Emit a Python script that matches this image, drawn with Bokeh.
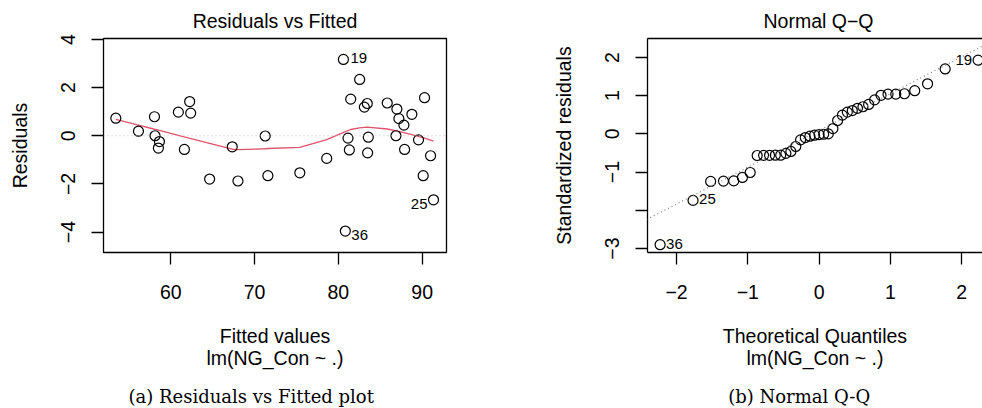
import numpy as np
from bokeh.plotting import figure
from bokeh.layouts import row, column
from bokeh.models import FixedTicker, Span, Slope, LinearAxis, Range1d
from bokeh.core.properties import value
from bokeh.embed import file_html
from bokeh.resources import INLINE

# ---------------- data ----------------
fitted = [53.45, 56.15, 58.06, 58.13, 58.65, 58.53, 60.91, 62.26, 62.38, 61.63,
          64.64, 67.34, 68.02, 71.27, 71.59, 75.40, 78.61, 80.60, 80.83, 81.15,
          81.31, 81.47, 82.54, 83.10, 83.45, 83.57, 83.49, 85.83, 86.98, 86.87,
          87.22, 87.82, 87.90, 88.77, 89.56, 90.28, 90.12, 91.00, 91.35]
residuals = [0.73, 0.19, 0.79, 0.00, -0.24, -0.51, 0.98, 1.42, 0.94, -0.57,
             -1.80, -0.46, -1.88, -0.01, -1.66, -1.54, -0.94, 3.17, -3.96, -0.10,
             -0.59, 1.52, 2.34, 1.19, 1.34, -0.06, -0.71, 1.36, 1.11, 0.00,
             0.71, 0.44, -0.57, 0.89, -0.17, 1.58, -1.66, -0.83, -2.66]

# lowess smoother as drawn
smooth_x = [53.45, 56.15, 58.06, 58.65, 60.91, 62.30, 64.64, 67.34, 68.02, 71.27,
            71.59, 75.40, 78.61, 80.83, 81.47, 82.54, 83.45, 85.83, 87.22, 88.77,
            90.28, 91.35]
smooth_y = [0.68, 0.44, 0.27, 0.22, 0.02, -0.11, -0.32, -0.56, -0.58, -0.54,
            -0.53, -0.48, -0.16, 0.17, 0.26, 0.33, 0.36, 0.28, 0.18, 0.05,
            -0.10, -0.22]

resid_label_idx = [17, 18, 38]
resid_label_txt = ["19", "36", "25"]

theoretical_q = [-2.231, -1.769, -1.522, -1.342, -1.198, -1.076, -0.967, -0.869,
                 -0.779, -0.695, -0.615, -0.539, -0.466, -0.396, -0.327, -0.260,
                 -0.194, -0.129, -0.064, 0.0, 0.064, 0.129, 0.194, 0.260, 0.327,
                 0.396, 0.466, 0.539, 0.615, 0.695, 0.779, 0.869, 0.967, 1.076,
                 1.198, 1.342, 1.522, 1.769, 2.231]
std_resid = [-2.90, -1.74, -1.245, -1.236, -1.23, -1.14, -1.01, -0.566, -0.562,
             -0.560, -0.558, -0.557, -0.51, -0.46, -0.33, -0.157, -0.096, -0.06,
             -0.035, -0.017, -0.009, 0.0, 0.14, 0.35, 0.49, 0.57, 0.61, 0.67,
             0.71, 0.77, 0.89, 1.01, 1.04, 1.04, 1.05, 1.13, 1.31, 1.70, 1.93]
qq_label_idx = [0, 1, 38]
qq_label_txt = ["36", "25", "19"]

rf_xticks = [60, 70, 80, 90]
rf_xlabels = ["60", "70", "80", "90"]
rf_yticks = [-4, -2, 0, 2, 4]
rf_ylabels = ["\u22124", "\u22122", "0", "2", "4"]
qq_xticks = [-2, -1, 0, 1, 2]
qq_xlabels = ["\u22122", "\u22121", "0", "1", "2"]
qq_yticks = [-3, -2, -1, 0, 1, 2]
qq_ylabels = ["\u22123", "", "\u22121", "0", "1", "2"]

captions = ["(a) Residuals vs Fitted plot", "(b) Normal Q-Q"]

assert len(fitted) == len(residuals) == 39
assert len(theoretical_q) == len(std_resid) == 39

SANS = "Liberation Sans"
SERIF = "DejaVu Serif"
FS = "19.5px"
LAB_FS = "15px"


def style_axis(ax, ticks, labels, label_standoff, title_standoff, vertical=False):
    ax.ticker = FixedTicker(ticks=ticks, minor_ticks=[])
    ax.major_label_overrides = {t: l for t, l in zip(ticks, labels)}
    ax.major_tick_out = 12
    ax.major_tick_in = 0
    ax.minor_tick_out = 0
    ax.minor_tick_in = 0
    ax.major_tick_line_width = 1.3
    ax.major_tick_line_color = "black"
    ax.axis_line_color = None
    ax.major_label_text_font = SANS
    ax.major_label_text_font_size = FS
    ax.major_label_text_color = "black"
    ax.major_label_standoff = label_standoff
    ax.axis_label_text_font = SANS
    ax.axis_label_text_font_size = FS
    ax.axis_label_text_font_style = "normal"
    ax.axis_label_text_color = "black"
    ax.axis_label_standoff = title_standoff
    if vertical:
        ax.major_label_orientation = "vertical"


def make_fig(frame_w, border_left, border_right, xr, yr, title):
    p = figure(frame_width=frame_w, frame_height=214,
               x_range=Range1d(*xr), y_range=Range1d(*yr),
               output_backend="svg", toolbar_location=None,
               min_border_left=border_left, min_border_right=border_right,
               min_border_top=38, min_border_bottom=126, title=title)
    p.xgrid.visible = False
    p.ygrid.visible = False
    p.background_fill_color = "white"
    p.border_fill_color = "white"
    p.title.text_font = SANS
    p.title.text_font_size = FS
    p.title.text_font_style = "normal"
    p.title.text_color = "black"
    p.title.vertical_align = "bottom"
    p.title.standoff = 13
    return p


# ---------------- panel (a): Residuals vs Fitted ----------------
p1 = make_fig(343, 103, 54, (51.98, 92.9), (-4.85, 4.04), "Residuals vs Fitted")
p1.title.align = "center"
p1.outline_line_color = "black"
p1.outline_line_width = 1.3
style_axis(p1.xaxis[0], rf_xticks, rf_xlabels, 20, 23)
style_axis(p1.yaxis[0], rf_yticks, rf_ylabels, 16, 28, vertical=True)
p1.xaxis[0].axis_label = "Fitted values\nlm(NG_Con ~ .)"
p1.xaxis[0].axis_label_text_line_height = 1.03
p1.yaxis[0].axis_label = "Residuals"

p1.add_layout(Span(location=0, dimension="width", line_color="#bebebe",
                   line_dash="1 3", line_width=1.2))
p1.line(smooth_x, smooth_y, line_color="#DF536B", line_width=1.3)
p1.scatter(fitted, residuals, marker="circle", size=10, fill_color=None,
           line_color="black", line_width=1.2)

rf_offsets = {"19": (7, -1, "left"), "36": (6, 3.5, "left"), "25": (-6, 4, "right")}
for i, t in zip(resid_label_idx, resid_label_txt):
    dx, dy, al = rf_offsets[t]
    p1.text(x=[fitted[i]], y=[residuals[i]], text=[t], x_offset=dx, y_offset=dy,
            text_align=al, text_baseline="middle", text_font=value(SANS),
            text_font_size=value(LAB_FS), text_color="black")

# ---------------- panel (b): Normal Q-Q ----------------
p2 = make_fig(335, 147, 0, (-2.408, 2.293), (-3.104, 2.496), "Normal Q\u2212Q")
p2.title.align = "left"
p2.title.offset = 116
p2.outline_line_color = None
style_axis(p2.xaxis[0], qq_xticks, qq_xlabels, 20, 23)
style_axis(p2.yaxis[0], qq_yticks, qq_ylabels, 16, 28, vertical=True)
for ax in (p2.xaxis[0], p2.yaxis[0]):
    ax.axis_line_color = "black"
    ax.axis_line_width = 1.3
p2.xaxis[0].axis_label = "Theoretical Quantiles\nlm(NG_Con ~ .)"
p2.xaxis[0].axis_label_text_line_height = 1.03
p2.yaxis[0].axis_label = "Standardized residuals"
top_axis = LinearAxis(ticker=FixedTicker(ticks=[], minor_ticks=[]),
                      major_label_text_font_size="0px",
                      major_tick_out=0, major_tick_in=0, minor_tick_out=0, minor_tick_in=0,
                      major_label_standoff=0, axis_line_color="black", axis_line_width=1.3)
p2.add_layout(top_axis, "above")

q1, q3 = np.percentile(std_resid, [25, 75])
z = 0.6744897501960817
slope = (q3 - q1) / (2 * z)
intercept = q1 + slope * z
p2.add_layout(Slope(gradient=slope, y_intercept=intercept, line_color="#7f7f7f",
                    line_dash="1 3", line_width=1.2))
p2.scatter(theoretical_q, std_resid, marker="circle", size=10, fill_color=None,
           line_color="black", line_width=1.2)

qq_offsets = {"36": (6, -1, "left"), "25": (6, -1, "left"), "19": (-6, 0, "right")}
for i, t in zip(qq_label_idx, qq_label_txt):
    dx, dy, al = qq_offsets[t]
    p2.text(x=[theoretical_q[i]], y=[std_resid[i]], text=[t], x_offset=dx, y_offset=dy,
            text_align=al, text_baseline="middle", text_font=value(SANS),
            text_font_size=value(LAB_FS), text_color="black")

# ---------------- caption strip (sub-figure captions) ----------------
cap = figure(width=982, height=30, x_range=Range1d(0, 982), y_range=Range1d(0, 30),
             x_axis_type=None, y_axis_type=None,
             output_backend="svg", toolbar_location=None,
             min_border_left=0, min_border_right=0, min_border_top=0, min_border_bottom=0)
cap.xgrid.visible = False
cap.ygrid.visible = False
cap.outline_line_color = None
cap.text(x=[250.7, 798.7], y=[12, 12], text=captions, text_align="center",
         text_baseline="alphabetic", text_font=value(SERIF),
         text_font_size=value("18px"), text_color="black")

layout = column(row(p1, p2), cap)
open("out.html", "w").write(file_html(layout, INLINE, title="Regression diagnostics"))
